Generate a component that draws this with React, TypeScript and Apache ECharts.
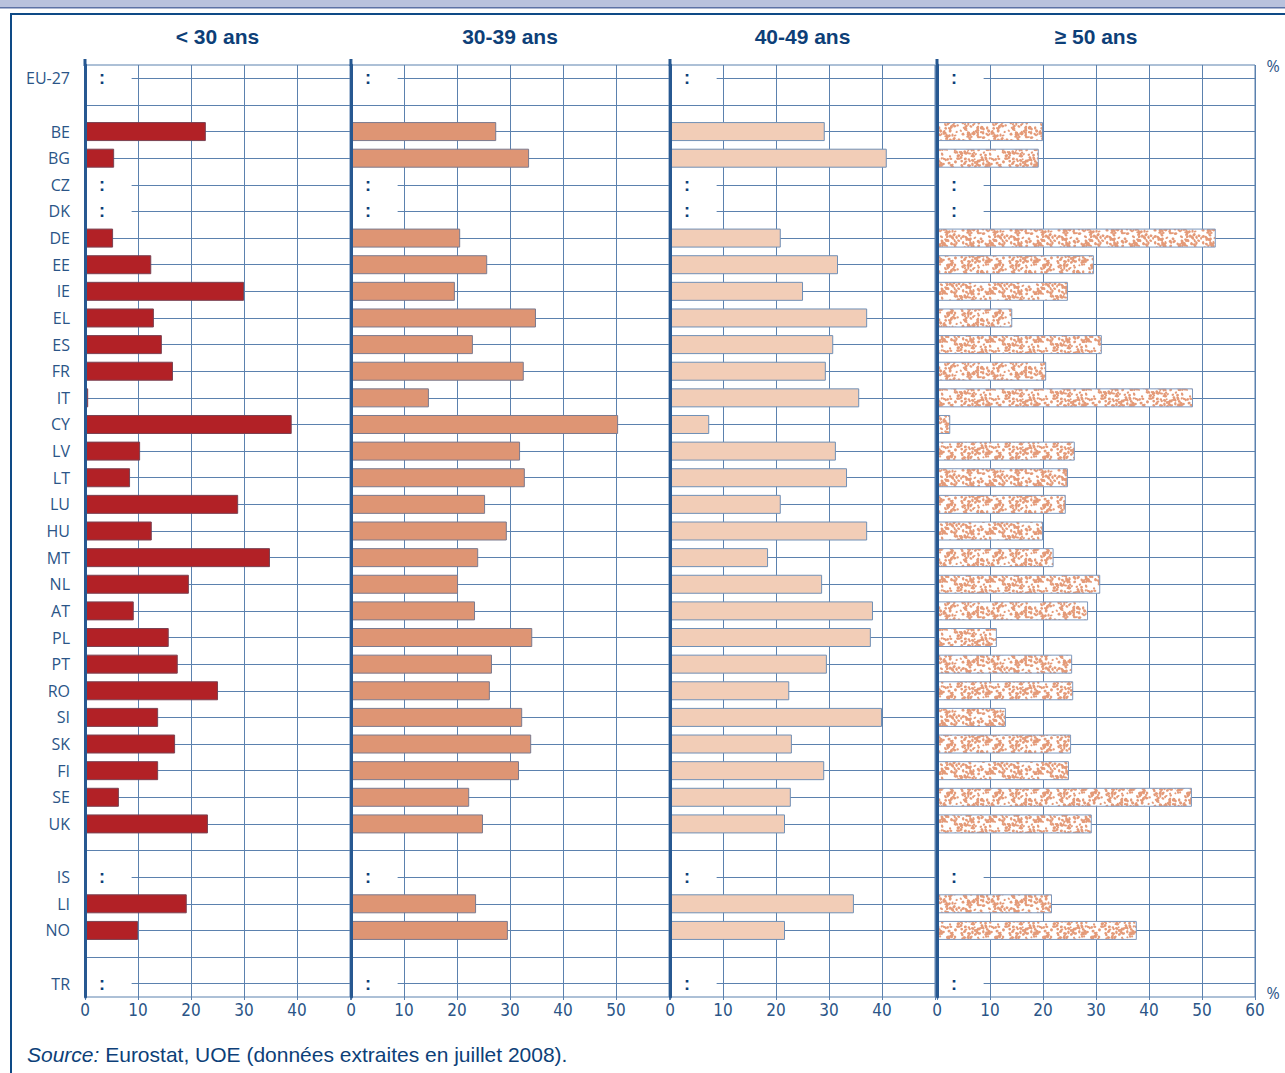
import React, { useEffect, useRef } from 'react';
import * as echarts from 'echarts';

// ---------- data ----------
const CATEGORIES = [
  'EU-27', '',
  'BE', 'BG', 'CZ', 'DK', 'DE', 'EE', 'IE', 'EL', 'ES', 'FR', 'IT', 'CY', 'LV', 'LT', 'LU',
  'HU', 'MT', 'NL', 'AT', 'PL', 'PT', 'RO', 'SI', 'SK', 'FI', 'SE', 'UK', '',
  'IS', 'LI', 'NO', '',
  'TR',
];

const UNDER_30 = [
  null, null,
  22.8, 5.5, null, null, 5.3, 12.5, 30, 13, 14.5, 16.6, 0.6, 39, 10.4, 8.5, 28.9,
  12.6, 34.9, 19.6, 9.2, 15.8, 17.5, 25.1, 13.8, 17, 13.8, 6.4, 23.2, null,
  null, 19.2, 10, null,
  null,
];

const AGE_30_39 = [
  null, null,
  27.4, 33.6, null, null, 20.6, 25.7, 19.6, 34.9, 23, 32.6, 14.7, 50.4, 31.9, 32.8, 25.3,
  29.4, 24, 20.2, 23.4, 34.2, 26.6, 26.2, 32.3, 34, 31.7, 22.3, 24.9, null,
  null, 23.6, 29.6, null,
  null,
];

const AGE_40_49 = [
  null, null,
  29.2, 40.9, null, null, 20.9, 31.7, 25.1, 37.2, 30.8, 29.4, 35.7, 7.4, 31.3, 33.4, 20.9,
  37.2, 18.5, 28.7, 38.3, 37.9, 29.6, 22.5, 40, 23, 29.1, 22.8, 21.7, null,
  null, 34.7, 21.7, null,
  null,
];

const AGE_50_PLUS = [
  null, null,
  20, 19.2, null, null, 52.6, 29.6, 24.7, 14.2, 31.1, 20.6, 48.3, 2.5, 26, 24.7, 24.3,
  20, 22, 30.8, 28.5, 11.3, 25.5, 25.7, 13, 25.3, 24.9, 48.1, 29.2, null,
  null, 21.7, 37.7, null,
  null,
];

const PANEL_TITLES = ['< 30 ans', '30-39 ans', '40-49 ans', '≥ 50 ans'];
const PANEL_MAX = [50, 60, 50, 60];
const PANEL_LABEL_MAX = [40, 50, 40, 60];
const SOURCE_ITALIC = 'Source:';
const SOURCE_TEXT = ' Eurostat, UOE (données extraites en juillet 2008).';
const UNIT_LABEL = '%';
const MISSING_MARK = ':';

// ---------- layout / style ----------
const W = 1285;
const H = 1073;
const PANEL_LEFT = [85, 351, 670, 937];
const UNIT_PX = 5.3;
const GRID_TOP = 65;
const GRID_HEIGHT = 932;
const GAP_START = 8.8;

const GRID_COLOR = '#5b81ae';
const AXIS_COLOR = '#275891';
const TEXT_COLOR = '#2b5587';
const TITLE_COLOR = '#0d3f78';
const TICK_FONT = "'Liberation Sans Narrow', 'DejaVu Sans Condensed', 'Open Sans', sans-serif";
const ARIAL = "'Liberation Sans', Arial, sans-serif";

function makeDotPattern(): HTMLCanvasElement {
  const size = 48;
  const c = document.createElement('canvas');
  c.width = size;
  c.height = size;
  const ctx = c.getContext('2d')!;
  ctx.fillStyle = '#ffffff';
  ctx.fillRect(0, 0, size, size);
  let s = 20080701;
  const rnd = () => {
    s |= 0; s = (s + 0x6d2b79f5) | 0;
    let t = Math.imul(s ^ (s >>> 15), 1 | s);
    t = (t + Math.imul(t ^ (t >>> 7), 61 | t)) ^ t;
    return ((t ^ (t >>> 14)) >>> 0) / 4294967296;
  };
  ctx.fillStyle = '#e49a78';
  for (let k = 0; k < 230; k++) {
    const x = rnd() * size;
    const y = rnd() * size;
    const rx = 1.0 + rnd() * 0.9;
    const ry = 0.9 + rnd() * 0.6;
    const rot = rnd() * Math.PI;
    for (const dx of [-size, 0, size]) {
      for (const dy of [-size, 0, size]) {
        ctx.beginPath();
        ctx.ellipse(x + dx, y + dy, rx, ry, rot, 0, Math.PI * 2);
        ctx.fill();
      }
    }
  }
  return c;
}

export default function App() {
  const ref = useRef<HTMLDivElement>(null);

  useEffect(() => {
    if (!ref.current) return;
    const chart = echarts.init(ref.current, null, { renderer: 'svg' });
    const pattern = makeDotPattern();

    const panelValues = [UNDER_30, AGE_30_39, AGE_40_49, AGE_50_PLUS];
    const fills: any[] = [
      '#b22126',
      '#de9574',
      '#f2cdb7',
      { image: pattern, repeat: 'repeat', imageWidth: 48, imageHeight: 48 },
    ];
    const borders = ['#7a4252', '#7b7a8e', '#7090b6', '#7d98bd'];

    const grids = PANEL_LEFT.map((left, p) => ({
      left,
      top: GRID_TOP,
      width: PANEL_MAX[p] * UNIT_PX,
      height: GRID_HEIGHT,
      show: true,
      borderColor: GRID_COLOR,
      borderWidth: 1,
      backgroundColor: 'transparent',
    }));

    const xAxes = PANEL_LEFT.map((_, p) => ({
      type: 'value',
      gridIndex: p,
      min: 0,
      max: PANEL_MAX[p],
      interval: 10,
      axisLine: { show: false },
      axisTick: { show: true, length: 3, lineStyle: { color: GRID_COLOR } },
      splitLine: { show: true, lineStyle: { color: GRID_COLOR, width: 1 } },
      axisLabel: {
        margin: 4,
        fontSize: 17,
        fontFamily: TICK_FONT,
        color: TEXT_COLOR,
        formatter: (v: number) => (v > PANEL_LABEL_MAX[p] ? '' : String(v)),
      },
    }));

    const yAxes = PANEL_LEFT.map((_, p) => ({
      type: 'category',
      gridIndex: p,
      inverse: true,
      data: CATEGORIES,
      axisTick: { show: false },
      splitLine: { show: false },
      axisLine: { show: true, lineStyle: { color: AXIS_COLOR, width: 3 } },
      axisLabel: {
        show: p === 0,
        margin: 15,
        fontFamily: "'Open Sans', sans-serif",
        fontSize: 16,
        color: TEXT_COLOR,
      },
      z: 3,
    }));

    const series = panelValues.map((vals, p) => ({
      type: 'bar',
      xAxisIndex: p,
      yAxisIndex: p,
      barWidth: 19,
      z: 2,
      itemStyle: { color: fills[p], borderColor: borders[p], borderWidth: 1 },
      data: CATEGORIES.map((cat, i) => {
        const v = vals[i];
        if (v != null) return v;
        if (cat === '') return null;
        return {
          value: 0,
          itemStyle: { borderWidth: 0, color: 'transparent' },
          label: {
            show: true,
            position: 'right',
            distance: 14,
            formatter: MISSING_MARK,
            color: TITLE_COLOR,
            fontSize: 18,
            fontWeight: 'bold',
            fontFamily: ARIAL,
          },
        };
      }),
      markLine: {
        silent: true,
        z: 1,
        symbol: ['none', 'none'],
        label: { show: false },
        lineStyle: { color: GRID_COLOR, width: 1, type: 'solid' },
        emphasis: { disabled: true },
        data: CATEGORIES.map((cat, i) => [
          { coord: [cat !== '' && vals[i] == null ? GAP_START : 0, i] },
          { coord: [PANEL_MAX[p], i] },
        ]),
      },
    }));

    const graphic: any[] = [
      { type: 'rect', shape: { x: 0, y: 0, width: W, height: 7 }, style: { fill: '#b9c2dd' } },
      { type: 'rect', shape: { x: 0, y: 7, width: W, height: 1.5 }, style: { fill: '#5d72a5' } },
      { type: 'rect', shape: { x: 10, y: 13, width: W - 10, height: 2 }, style: { fill: '#0e4a86' } },
      { type: 'rect', shape: { x: 10, y: 13, width: 2, height: H - 13 }, style: { fill: '#0e4a86' } },
      {
        type: 'text',
        x: 1273,
        y: 66,
        style: {
          text: UNIT_LABEL, fill: TEXT_COLOR, font: "16px 'Open Sans', sans-serif",
          align: 'center', verticalAlign: 'middle', textAlign: 'center', textVerticalAlign: 'middle',
        },
      },
      {
        type: 'text',
        x: 1273,
        y: 993,
        style: {
          text: UNIT_LABEL, fill: TEXT_COLOR, font: "16px 'Open Sans', sans-serif",
          align: 'center', verticalAlign: 'middle', textAlign: 'center', textVerticalAlign: 'middle',
        },
      },
      {
        type: 'text',
        x: 27,
        y: 1054,
        style: {
          text: '{i|' + SOURCE_ITALIC + '}{n|' + SOURCE_TEXT + '}',
          verticalAlign: 'middle',
          textVerticalAlign: 'middle',
          rich: {
            i: { fontStyle: 'italic', fontSize: 21, fontFamily: ARIAL, fill: TITLE_COLOR },
            n: { fontSize: 21, fontFamily: ARIAL, fill: TITLE_COLOR },
          },
        },
      },
    ];

    PANEL_LEFT.forEach((left, p) => {
      const cx = left + (PANEL_MAX[p] * UNIT_PX) / 2;
      graphic.push({
        type: 'text',
        x: cx,
        y: 36,
        style: {
          text: PANEL_TITLES[p],
          fill: TITLE_COLOR,
          font: 'bold 21px ' + ARIAL,
          align: 'center', verticalAlign: 'middle', textAlign: 'center', textVerticalAlign: 'middle',
        },
      });
      graphic.push({
        type: 'line',
        shape: { x1: left, y1: 59, x2: left, y2: GRID_TOP + 1 },
        style: { stroke: AXIS_COLOR, lineWidth: 3 },
      });
    });

    chart.setOption({
      animation: false,
      backgroundColor: '#ffffff',
      grid: grids,
      xAxis: xAxes,
      yAxis: yAxes,
      series,
      graphic,
    });

    return () => chart.dispose();
  }, []);

  return (
    <div
      ref={ref}
      style={{ position: 'absolute', left: 0, top: 0, width: W, height: H, background: '#fff' }}
    />
  );
}
